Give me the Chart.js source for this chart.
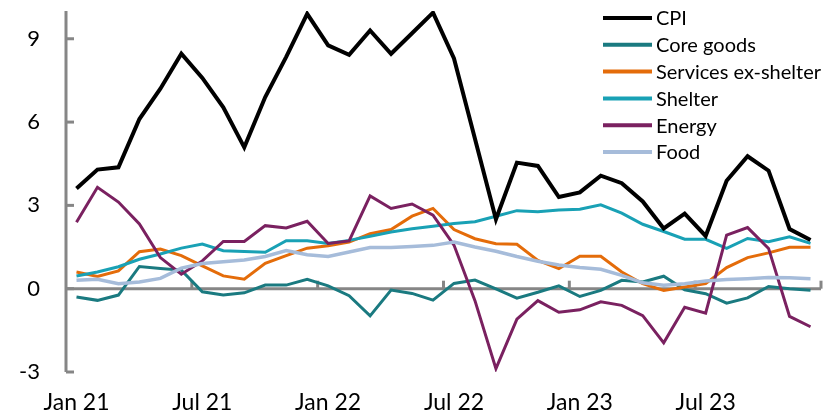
<!DOCTYPE html>
<html>
<head>
<meta charset="utf-8">
<script src="https://cdn.jsdelivr.net/npm/chart.js@4.4.0/dist/chart.umd.min.js"></script>
<style>
  html, body { margin: 0; padding: 0; background: #ffffff; }
  #wrap { width: 824px; height: 418px; }
</style>
</head>
<body>
<div id="wrap"><canvas id="c" width="824" height="418"></canvas></div>
<script>
const months = ['Jan 21','Feb 21','Mar 21','Apr 21','May 21','Jun 21','Jul 21','Aug 21','Sep 21','Oct 21','Nov 21','Dec 21',
  'Jan 22','Feb 22','Mar 22','Apr 22','May 22','Jun 22','Jul 22','Aug 22','Sep 22','Oct 22','Nov 22','Dec 22',
  'Jan 23','Feb 23','Mar 23','Apr 23','May 23','Jun 23','Jul 23','Aug 23','Sep 23','Oct 23','Nov 23','Dec 23'];

const cpi = [3.61,4.29,4.37,6.11,7.2,8.46,7.59,6.53,5.09,6.9,8.35,9.9,8.76,8.42,9.30,8.46,9.2,9.94,8.29,5.4,2.5,4.54,4.42,3.30,3.47,4.07,3.80,3.14,2.17,2.70,1.90,3.89,4.77,4.25,2.15,1.75];
const coreGoods = [-0.30,-0.42,-0.23,0.80,0.73,0.67,-0.11,-0.23,-0.15,0.13,0.13,0.34,0.10,-0.25,-0.98,-0.05,-0.17,-0.41,0.19,0.31,-0.01,-0.34,-0.13,0.10,-0.28,-0.06,0.30,0.24,0.45,-0.04,-0.18,-0.52,-0.33,0.08,0.00,-0.06];
const servicesExShelter = [0.60,0.44,0.64,1.33,1.43,1.19,0.82,0.46,0.34,0.91,1.19,1.46,1.55,1.68,1.98,2.13,2.61,2.89,2.13,1.80,1.62,1.60,1.02,0.72,1.17,1.17,0.60,0.18,-0.06,0.06,0.18,0.76,1.12,1.29,1.49,1.49];
const shelter = [0.46,0.60,0.79,1.06,1.25,1.46,1.61,1.37,1.34,1.31,1.73,1.73,1.63,1.74,1.89,2.04,2.16,2.25,2.35,2.41,2.61,2.81,2.77,2.83,2.86,3.02,2.72,2.32,2.06,1.78,1.78,1.45,1.81,1.69,1.87,1.63];
const energy = [2.39,3.65,3.12,2.33,1.12,0.52,1.00,1.70,1.70,2.27,2.19,2.43,1.63,1.72,3.34,2.89,3.05,2.65,1.57,-0.43,-2.88,-1.10,-0.43,-0.85,-0.76,-0.47,-0.60,-0.97,-1.95,-0.67,-0.88,1.93,2.20,1.45,-1.00,-1.37];
const food = [0.30,0.34,0.18,0.24,0.37,0.74,0.91,0.97,1.03,1.16,1.37,1.22,1.16,1.32,1.48,1.48,1.52,1.56,1.68,1.50,1.35,1.16,0.99,0.85,0.76,0.70,0.48,0.21,0.12,0.18,0.28,0.33,0.36,0.40,0.39,0.36];

const seriesNames = ['CPI','Core goods','Services ex-shelter','Shelter','Energy','Food'];
const yTickValues = [-3,0,3,6,9];

const FONT = 'Lato, "Open Sans", sans-serif';
const AXIS_GRAY = '#868686';

const axisPlugin = {
  id: 'excelAxes',
  beforeDatasetsDraw(chart) {
    const ctx = chart.ctx;
    const area = chart.chartArea;
    const xs = chart.scales.x, ys = chart.scales.y;
    ctx.save();
    ctx.strokeStyle = AXIS_GRAY;
    ctx.lineWidth = 3;
    ctx.lineCap = 'butt';
    ctx.beginPath();
    ctx.moveTo(area.left, area.top);
    ctx.lineTo(area.left, area.bottom);
    ctx.stroke();
    yTickValues.forEach(v => {
      const y = ys.getPixelForValue(v);
      ctx.beginPath();
      ctx.moveTo(area.left, y);
      ctx.lineTo(area.left + 8, y);
      ctx.stroke();
    });
    const y0 = ys.getPixelForValue(0);
    ctx.beginPath();
    ctx.moveTo(area.left, y0);
    ctx.lineTo(area.right, y0);
    ctx.stroke();
    const half = (xs.getPixelForValue(1) - xs.getPixelForValue(0)) / 2;
    for (let k = 6; k <= months.length; k += 6) {
      const x = (k < months.length ? xs.getPixelForValue(k) : xs.getPixelForValue(months.length - 1) + 2 * half) - half;
      ctx.beginPath();
      ctx.moveTo(x, y0);
      ctx.lineTo(x, y0 - 8);
      ctx.stroke();
    }
    ctx.restore();
  }
};

const legendPlugin = {
  id: 'floatLegend',
  afterDraw(chart) {
    const ctx = chart.ctx;
    ctx.save();
    ctx.font = '20px ' + FONT;
    ctx.textBaseline = 'middle';
    ctx.textAlign = 'left';
    const x0 = 603, lineLen = 49, y0 = 18, step = 26.8;
    chart.data.datasets.forEach((ds, i) => {
      const y = y0 + i * step;
      ctx.strokeStyle = ds.borderColor;
      ctx.lineWidth = 4;
      ctx.beginPath();
      ctx.moveTo(x0, y);
      ctx.lineTo(x0 + lineLen, y);
      ctx.stroke();
      ctx.fillStyle = '#000';
      ctx.fillText(ds.label, x0 + lineLen + 4, y + 1);
    });
    ctx.restore();
  }
};

const colors = ['#000000','#1A7A80','#E46C0A','#19A1B5','#7A2160','#A6BCDA'];
const widths = [4, 3, 3, 3, 3, 3.5];
const values = [cpi, coreGoods, servicesExShelter, shelter, energy, food];

const datasets = values.map((d, i) => ({
  label: seriesNames[i],
  data: d,
  borderColor: colors[i],
  backgroundColor: colors[i],
  borderWidth: widths[i],
  pointRadius: 0,
  tension: 0,
  fill: false,
  order: i === 0 ? 0 : 10 - i
}));

new Chart(document.getElementById('c'), {
  type: 'line',
  data: { labels: months, datasets },
  options: {
    responsive: false,
    animation: false,
    devicePixelRatio: 1,
    layout: { padding: { top: 11, right: 3, left: 0, bottom: 0 } },
    plugins: { legend: { display: false }, tooltip: { enabled: false } },
    scales: {
      x: {
        type: 'category',
        offset: true,
        grid: { display: false, drawTicks: false },
        border: { display: false },
        ticks: {
          autoSkip: false, maxRotation: 0, minRotation: 0,
          color: '#000', font: { family: FONT, size: 23 }, padding: 17,
          callback: function(val, idx) { return idx % 6 === 0 ? months[idx] : ''; }
        },
        afterFit: s => { s.height = 46; s.paddingLeft = 0; s.paddingRight = 0; s.paddingTop = 0; s.paddingBottom = 0; }
      },
      y: {
        min: -3, max: 10,
        grid: { display: false, drawTicks: false },
        border: { display: false },
        ticks: { stepSize: 3, color: '#000', font: { family: FONT, size: 22 }, padding: 26 },
        afterBuildTicks: s => { s.ticks = yTickValues.map(v => ({ value: v })); },
        afterFit: s => { s.width = 66; s.paddingTop = 0; s.paddingBottom = 0; s.paddingLeft = 0; s.paddingRight = 0; }
      }
    }
  },
  plugins: [axisPlugin, legendPlugin]
});
</script>
</body>
</html>
